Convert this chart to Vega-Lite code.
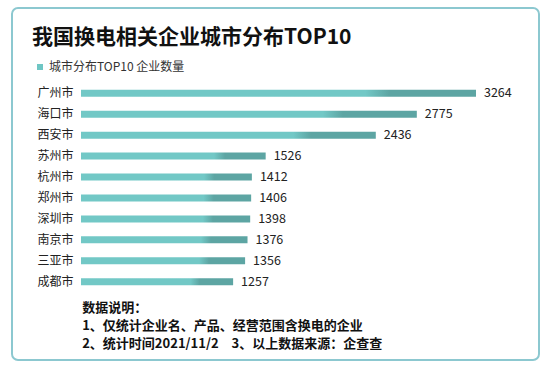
{
  "$schema": "https://vega.github.io/schema/vega-lite/v6.json",
  "width": 527,
  "height": 352,
  "autosize": {"type": "none"},
  "padding": {"left": 12, "top": 8, "right": 7, "bottom": 11},
  "background": "white",
  "title": {
    "text": "我国换电相关企业城市分布TOP10",
    "anchor": "start",
    "frame": "group",
    "fontSize": 21,
    "fontWeight": "bold",
    "font": "Noto Sans CJK SC",
    "color": "#111111",
    "baseline": "bottom",
    "dx": 20,
    "offset": -61
  },
  "data": {
    "values": [
      {"city": "广州市", "value": 3264},
      {"city": "海口市", "value": 2775},
      {"city": "西安市", "value": 2436},
      {"city": "苏州市", "value": 1526},
      {"city": "杭州市", "value": 1412},
      {"city": "郑州市", "value": 1406},
      {"city": "深圳市", "value": 1398},
      {"city": "南京市", "value": 1376},
      {"city": "三亚市", "value": 1356},
      {"city": "成都市", "value": 1257}
    ]
  },
  "encoding": {
    "y": {
      "field": "city",
      "type": "nominal",
      "sort": null,
      "scale": {"range": [74.8, 284.2], "paddingInner": 0.666, "paddingOuter": 0.333},
      "axis": {
        "title": null,
        "offset": -69,
        "ticks": false,
        "domain": false,
        "grid": false,
        "labelPadding": 8,
        "labelFontSize": 12,
        "labelColor": "#222222",
        "labelFont": "Noto Sans CJK SC"
      }
    },
    "x": {
      "field": "value",
      "type": "quantitative",
      "scale": {"domain": [-570.2, 3784.6], "nice": false, "zero": false},
      "axis": {
        "labels": false,
        "ticks": false,
        "domain": false,
        "grid": false,
        "title": ["数据说明：", "1、仅统计企业名、产品、经营范围含换电的企业", "2、统计时间2021/11/2\u30003、以上数据来源：企查查"],
        "titleAnchor": "start",
        "titleAlign": "left",
        "titleBaseline": "top",
        "titleX": 69.7,
        "titleY": -58.5,
        "titleFontSize": 13,
        "titleFontWeight": "bold",
        "titleFont": "Noto Sans CJK SC",
        "titleColor": "#111111",
        "titleLineHeight": 18
      }
    }
  },
  "layer": [
    {
      "mark": {
        "type": "bar",
        "color": {
          "gradient": "linear",
          "x1": 0, "x2": 1, "y1": 0, "y2": 0,
          "stops": [
            {"offset": 0, "color": "#72C8C6"},
            {"offset": 0.72, "color": "#72C8C6"},
            {"offset": 0.78, "color": "#5DA5A3"},
            {"offset": 1, "color": "#5DA5A3"}
          ]
        }
      },
      "encoding": {"x2": {"datum": 0}}
    },
    {
      "mark": {"type": "text", "align": "left", "baseline": "middle", "dx": 8, "fontSize": 12.5, "color": "#222222", "font": "Noto Sans CJK SC"},
      "encoding": {"text": {"field": "value", "type": "quantitative"}}
    },
    {
      "mark": {"type": "square", "opacity": 0},
      "encoding": {
        "color": {
          "datum": "城市分布TOP10 企业数量",
          "type": "nominal",
          "scale": {"range": ["#6FC6C4"]},
          "legend": {
            "title": null,
            "orient": "none",
            "legendX": 22,
            "legendY": 53,
            "padding": 0,
            "symbolType": "square",
            "symbolSize": 36,
            "symbolOpacity": 1,
            "labelFontSize": 12,
            "labelColor": "#333333",
            "labelFont": "Noto Sans CJK SC",
            "labelOffset": 3
          }
        }
      }
    }
  ],
  "config": {
    "font": "Noto Sans CJK SC",
    "view": {"stroke": "#8CC8D0", "strokeWidth": 2, "cornerRadius": 6, "fill": "white"}
  }
}
